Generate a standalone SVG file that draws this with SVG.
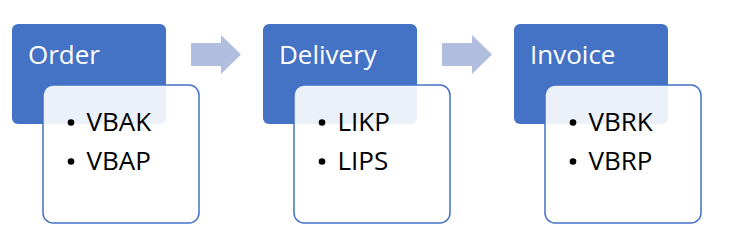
<svg xmlns="http://www.w3.org/2000/svg" width="738" height="249" viewBox="0 0 738 249">
<style>
.hdr{fill:#4472C4}
.body{fill:#FFFFFF;fill-opacity:0.9;stroke:#4472C4;stroke-width:1.5}
.title{font-family:"Open Sans",sans-serif;font-size:26px;fill:#FFFFFF}
.item{font-family:"Open Sans",sans-serif;font-size:26px;fill:#000000}
.dot{fill:#000000}
.arr{fill:#B1BEDF}
</style>
<rect width="738" height="249" fill="#FFFFFF"/>
<g id="connectors">
<path class="arr" d="M191,43 H221 V35 L241,54.5 L221,74 V66 H191 Z"/>
<path class="arr" d="M442,43 H472 V35 L492,54.5 L472,74 V66 H442 Z"/>
</g>
<g id="order">
<rect class="hdr" x="12" y="24" width="154" height="100" rx="6"/>
<text class="title" x="28" y="64">Order</text>
<rect class="body" x="43" y="85" width="156" height="138" rx="10"/>
<circle class="dot" cx="71" cy="122.5" r="3.3"/>
<text class="item" x="86.5" y="131">VBAK</text>
<circle class="dot" cx="71" cy="161.5" r="3.3"/>
<text class="item" x="86.5" y="170">VBAP</text>
</g>
<g id="delivery">
<rect class="hdr" x="263" y="24" width="154" height="100" rx="6"/>
<text class="title" x="279" y="64">Delivery</text>
<rect class="body" x="294" y="85" width="156" height="138" rx="10"/>
<circle class="dot" cx="322" cy="122.5" r="3.3"/>
<text class="item" x="337.5" y="131">LIKP</text>
<circle class="dot" cx="322" cy="161.5" r="3.3"/>
<text class="item" x="337.5" y="170">LIPS</text>
</g>
<g id="invoice">
<rect class="hdr" x="514" y="24" width="154" height="100" rx="6"/>
<text class="title" x="530" y="64">Invoice</text>
<rect class="body" x="545" y="85" width="156" height="138" rx="10"/>
<circle class="dot" cx="573" cy="122.5" r="3.3"/>
<text class="item" x="588.5" y="131">VBRK</text>
<circle class="dot" cx="573" cy="161.5" r="3.3"/>
<text class="item" x="588.5" y="170">VBRP</text>
</g>
</svg>
